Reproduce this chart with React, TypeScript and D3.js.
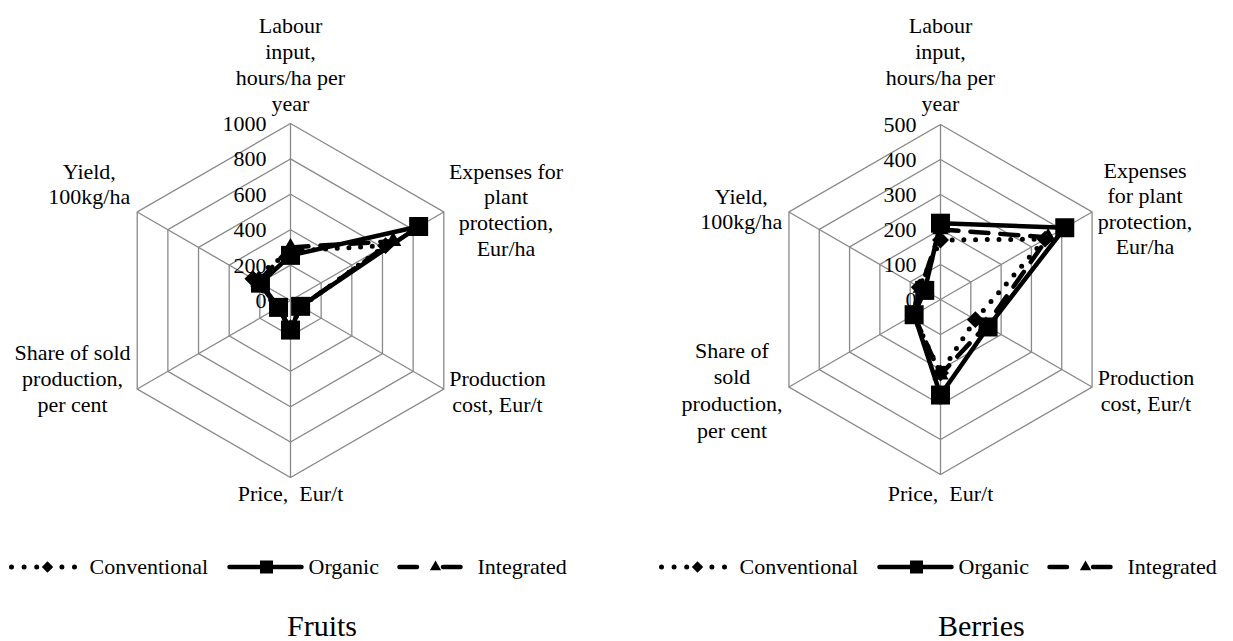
import React from "react";
import * as d3 from "d3";

// axis names, clockwise from the top
const axisNames = [
  "Labour input, hours/ha per year",
  "Expenses for plant protection, Eur/ha",
  "Production cost, Eur/t",
  "Price,  Eur/t",
  "Share of sold production, per cent",
  "Yield, 100kg/ha",
];

const seriesNames = ["Conventional", "Organic", "Integrated"];

// Fruits
const fruitsTicks = [0, 200, 400, 600, 800, 1000];
const fruitsConventional = [280, 620, 70, 155, 85, 245];
const fruitsOrganic = [255, 836, 66, 167, 78, 196];
const fruitsIntegrated = [300, 670, 68, 160, 82, 210];
const fruitsLabelLines = [
  ["Labour", "input,", "hours/ha per", "year"],
  ["Expenses for", "plant", "protection,", "Eur/ha"],
  ["Production", "cost, Eur/t"],
  ["Price,  Eur/t"],
  ["Share of sold", "production,", "per cent"],
  ["Yield,", "100kg/ha"],
];

// Berries
const berriesTicks = [0, 100, 200, 300, 400, 500];
const berriesConventional = [170, 345, 115, 210, 90, 70];
const berriesOrganic = [218, 410, 157, 273, 87, 52];
const berriesIntegrated = [200, 355, 150, 215, 88, 65];
const berriesLabelLines = [
  ["Labour", "input,", "hours/ha per", "year"],
  ["Expenses", "for plant", "protection,", "Eur/ha"],
  ["Production", "cost, Eur/t"],
  ["Price,  Eur/t"],
  ["Share of", "sold", "production,", "per cent"],
  ["Yield,", "100kg/ha"],
];

const FONT = "'Liberation Serif', 'Times New Roman', serif";
const GRID = "#898989";

type Style = {
  dash?: string;
  width: number;
  symbol: d3.SymbolType;
  size: number;
  legendSize: number;
  rotate: number;
};

const styles: Style[] = [
  { dash: "0 11.7", width: 5, symbol: d3.symbolSquare, size: 144, legendSize: 64, rotate: 45 },
  { width: 4.5, symbol: d3.symbolSquare, size: 361, legendSize: 169, rotate: 0 },
  { dash: "18 12", width: 4.5, symbol: d3.symbolTriangle, size: 115, legendSize: 55, rotate: 0 },
];

type LabelPos = { x: number; ys: number[] };

type RadarProps = {
  cx: number;
  cy: number;
  radius: number;
  ticks: number[];
  series: number[][];
  labels: string[][];
  labelPos: LabelPos[];
  title: string;
  titleX: number;
};

function Radar({ cx, cy, radius, ticks, series, labels, labelPos, title, titleX }: RadarProps) {
  const max = ticks[ticks.length - 1];
  const r = d3.scaleLinear().domain([0, max]).range([0, radius]);
  const angle = (i: number) => (i * Math.PI) / 3;

  const line = d3
    .lineRadial<number>()
    .angle((_, i) => angle(i))
    .radius((d) => r(d))
    .curve(d3.curveLinearClosed);

  const ring = (v: number) => line(axisNames.map(() => v)) || "";

  // legend layout (offsets from chart centre)
  const legendY = 567;
  const legend = [
    { x0: -279, x1: -215, m: -243, t: -201, dash: "0 12.6" },
    { x0: -61, x1: 11, m: -24, t: 18, dash: undefined },
    { x0: 109, x1: 173, m: 145, t: 187, dash: "17.5 26" },
  ];

  return (
    <g>
      <g transform={`translate(${cx},${cy})`}>
        {ticks.slice(1).map((t) => (
          <path key={t} d={ring(t)} fill="none" stroke={GRID} strokeWidth={1.3} />
        ))}
        {axisNames.map((_, i) => {
          const [x, y] = d3.pointRadial(angle(i), r(max));
          return <line key={i} x1={0} y1={0} x2={x} y2={y} stroke={GRID} strokeWidth={1.3} />;
        })}
        {ticks.map((t) => (
          <text
            key={t}
            x={-24}
            y={-r(t)}
            textAnchor="end"
            dominantBaseline="central"
            fontSize={22}
            fontFamily={FONT}
          >
            {t}
          </text>
        ))}
        {series.map((vals, s) => (
          <g key={s}>
            <path
              d={line(vals) || ""}
              fill="none"
              stroke="#000"
              strokeWidth={styles[s].width}
              strokeDasharray={styles[s].dash}
              strokeLinecap={styles[s].dash ? "round" : "butt"}
              strokeLinejoin="round"
            />
            {vals.map((v, i) => {
              const [x, y] = d3.pointRadial(angle(i), r(v));
              return (
                <path
                  key={i}
                  d={d3.symbol().type(styles[s].symbol).size(styles[s].size)() || ""}
                  transform={`translate(${x},${y}) rotate(${styles[s].rotate})`}
                  fill="#000"
                />
              );
            })}
          </g>
        ))}
      </g>

      {labels.map((lines, i) => (
        <text key={i} textAnchor="middle" fontSize={22} fontFamily={FONT} style={{ whiteSpace: "pre" }}>
          {lines.map((ln, k) => (
            <tspan key={k} x={labelPos[i].x} y={labelPos[i].ys[k]} dominantBaseline="central">
              {ln}
            </tspan>
          ))}
        </text>
      ))}

      {legend.map((l, s) => (
        <g key={s}>
          <line
            x1={cx + l.x0}
            x2={cx + l.x1}
            y1={legendY}
            y2={legendY}
            stroke="#000"
            strokeWidth={styles[s].width}
            strokeDasharray={l.dash}
            strokeLinecap="round"
          />
          <path
            d={d3.symbol().type(styles[s].symbol).size(styles[s].legendSize)() || ""}
            transform={`translate(${cx + l.m},${legendY}) rotate(${styles[s].rotate})`}
            fill="#000"
          />
          <text x={cx + l.t} y={574} fontSize={22} fontFamily={FONT}>
            {seriesNames[s]}
          </text>
        </g>
      ))}

      <text x={titleX} y={636} fontSize={30} fontFamily={FONT}>
        {title}
      </text>
    </g>
  );
}

export default function App() {
  const labourYs = [25.5, 51.5, 77.5, 103.5];
  const fruitsPos: LabelPos[] = [
    { x: 290.5, ys: labourYs },
    { x: 506, ys: [171, 196.7, 222.4, 248] },
    { x: 497.5, ys: [378, 404] },
    { x: 290.5, ys: [493] },
    { x: 72.5, ys: [352, 378, 404] },
    { x: 89.3, ys: [171, 196.7] },
  ];
  const berriesPos: LabelPos[] = [
    { x: 940.5, ys: labourYs },
    { x: 1145, ys: [170, 195.7, 221.7, 246.7] },
    { x: 1146, ys: [377, 403] },
    { x: 940.5, ys: [493] },
    { x: 732, ys: [350, 376.7, 403.3, 430] },
    { x: 741.3, ys: [196.7, 221.7] },
  ];

  return (
    <svg
      width={1233}
      height={641}
      style={{ position: "absolute", left: 0, top: 0, display: "block", background: "#fff" }}
    >
      <Radar
        cx={290.5}
        cy={300.5}
        radius={177}
        ticks={fruitsTicks}
        series={[fruitsConventional, fruitsOrganic, fruitsIntegrated]}
        labels={fruitsLabelLines}
        labelPos={fruitsPos}
        title="Fruits"
        titleX={287}
      />
      <Radar
        cx={940.5}
        cy={299.5}
        radius={175}
        ticks={berriesTicks}
        series={[berriesConventional, berriesOrganic, berriesIntegrated]}
        labels={berriesLabelLines}
        labelPos={berriesPos}
        title="Berries"
        titleX={938}
      />
    </svg>
  );
}
